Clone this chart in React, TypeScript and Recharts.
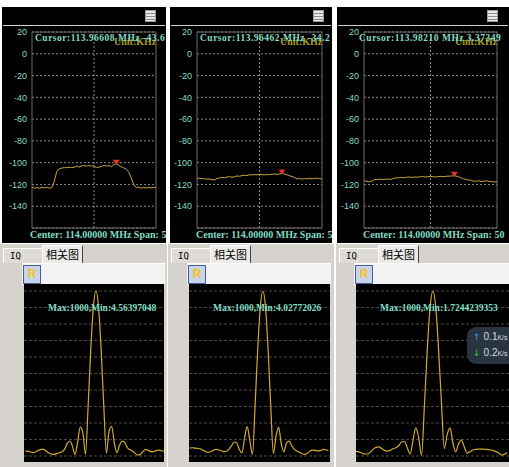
import React from 'react';
import {
  LineChart,
  Line,
  XAxis,
  YAxis,
  CartesianGrid,
  ReferenceLine,
  ReferenceArea,
  ReferenceDot,
} from 'recharts';

// Spectrum traces: level in dB for each of 51 bins across the span
const spectrumA = [
  -122.5, -123.5, -122.8, -123.6, -122.6, -123.2, -122.5, -123.4, -123, -117,
  -108, -105.5, -105, -104.6, -104.5, -104.3, -104.5, -104.2, -103.2, -104,
  -103, -102.8, -103, -102.8, -103, -103, -104.5, -104, -103.6, -102.5,
  -103.2, -102.6, -103.8, -101.8, -101, -102.5, -103.8, -104.8, -106, -108.5,
  -114, -120, -123, -122.4, -123.5, -122.8, -123.4, -122.6, -123.2, -122.7, -123,
];
const spectrumB = [
  -114.5, -114.2, -114.8, -114.6, -115.2, -115, -115.6, -115.8, -114.6, -114,
  -113.6, -113.9, -113.2, -112.8, -113.4, -112.9, -112.2, -112.5, -111.9, -111.6,
  -111.8, -111.1, -111.3, -110.9, -111.2, -110.7, -110.9, -111.3, -110.8, -111,
  -110.6, -110.4, -110.8, -110.3, -109.9, -110.5, -111.2, -112, -112.8, -113.6,
  -114.9, -114.4, -115.2, -114.6, -114.9, -114.3, -114.8, -114.5, -114.2, -114.7, -114.9,
];
const spectrumC = [
  -116.6, -117.2, -117.6, -116.8, -115.6, -115.4, -115.2, -115.6, -115.3, -115,
  -115.4, -114.6, -114, -113.8, -113.5, -113.9, -113.4, -113.2, -113.6, -113.1,
  -113.4, -113, -112.8, -113.2, -112.9, -112.7, -112.9, -113.1, -112.7, -112.6,
  -112.8, -112.5, -112.4, -112.2, -112, -112.6, -113.4, -114.5, -115.3, -115.8,
  -116.2, -116.9, -117.1, -116.6, -117.3, -117, -116.7, -117.2, -117.4, -117.6, -117.8,
];
const markerBin = 34;
const centerBin = 25;
const dbTicks = [20, 0, -20, -40, -60, -80, -100, -120, -140];

const cursorLabels = [
  'Cursor:113.96608 MHz -43.6',
  'Cursor:113.96462 MHz -34.2',
  'Cursor:113.98210 MHz 3.37349',
];
const unitLabel = 'Unit:KHz';
const centerLabel = 'Center: 114.00000 MHz  Span: 50';

// Correlation magnitude per lag, peak normalised to 1000
const corrA = [
  28, 30, 24, 20, 26, 34, 40, 40, 30, 18, 11, 10, 14, 20, 26, 40, 75, 91, 60, 10,
  85, 175, 140, 10, 300, 640, 900, 1000, 900, 640, 300, 18, 150, 178, 80, 20, 65, 90,
  82, 50, 38, 30, 16, 6, 10, 28, 40, 34, 27, 26, 33, 36, 32, 30,
];
const corrB = [
  48, 50, 48, 46, 44, 36, 28, 22, 26, 34, 40, 38, 32, 27, 28, 40, 62, 85, 80, 40,
  18, 110, 178, 95, 10, 300, 640, 900, 1000, 900, 640, 300, 16, 120, 174, 75, 25, 80,
  90, 62, 40, 30, 22, 14, 10, 18, 30, 36, 34, 31, 32, 40, 38, 32,
];
const corrC = [
  28, 25, 18, 12, 12, 22, 40, 52, 55, 45, 34, 30, 34, 44, 50, 62, 85, 88, 50, 12,
  95, 170, 110, 5, 300, 640, 900, 1000, 900, 640, 320, 45, 130, 170, 80, 25, 75, 97,
  55, 18, 26, 36, 40, 42, 42, 41, 40, 38, 34, 27, 20, 6, 10, 20,
];
const corrStarts = [-27, -28, -27];
const corrGrid = [0, 100, 200, 300, 400, 500, 600, 700, 800, 900, 1000];
const corrMins = ['4.56397048', '4.02772026', '1.7244239353'];
const tabLabels = ['IQ', '相关图'];
const speeds = ['0.1', '0.2'];

const TEAL = '#80dcc4';
const TRACE = '#c9a43a';

const columns = [
  { left: 0, width: 167, topLeft: 2, topW: 164, axisW: 30, padR: 10, menu: 145, text: 35, center: 30, black: 24, blackW: 140, lags: [-27.5, 26] },
  { left: 168, width: 166, topLeft: 170, topW: 162, axisW: 27, padR: 10, menu: 313, text: 200, center: 196, black: 189, blackW: 141, lags: [-28.2, 25.6] },
  { left: 336, width: 173, topLeft: 337, topW: 172, axisW: 27, padR: 12, menu: 487, text: 359, center: 363, black: 356, blackW: 153, lags: [-27, 26.7] },
];
const spectra = [spectrumA, spectrumB, spectrumC];
const correlations = [corrA, corrB, corrC];

const serif: React.CSSProperties = {
  fontFamily: '"Liberation Serif", serif',
  fontWeight: 'bold',
  whiteSpace: 'nowrap',
  position: 'absolute',
  lineHeight: 1,
};

function Marker(props: any) {
  const { cx, cy } = props;
  return <path d={`M${cx - 3.5},${cy - 4} L${cx + 3.5},${cy - 4} L${cx},${cy + 1} Z`} fill="#e8322a" />;
}

function MenuIcon({ left }: { left: number }) {
  return (
    <div
      style={{
        position: 'absolute',
        left,
        top: 3,
        width: 11,
        height: 12,
        border: '1px solid #9a9a9a',
        boxSizing: 'border-box',
        background: 'repeating-linear-gradient(#e8e8e8 0 2px, #8c8c8c 2px 3px)',
      }}
    />
  );
}

function SpectrumPanel({ col, values, cursor }: { col: any; values: number[]; cursor: string }) {
  const data = values.map((db, bin) => ({ bin, db }));
  const plotRight = col.topW - col.padR;
  return (
    <div style={{ position: 'absolute', left: col.topLeft, top: 7, width: col.topW, height: 236, background: '#000', overflow: 'hidden' }}>
      <div style={{ position: 'absolute', left: 1, right: 1, top: 18, height: 1, background: '#d0d0d0' }} />
      <MenuIcon left={col.menu - col.topLeft} />
      <div style={{ position: 'absolute', left: 0, top: 19 }}>
        <LineChart width={col.topW} height={210} data={data} margin={{ top: 6, right: col.padR, bottom: 8, left: 0 }}>
          <CartesianGrid vertical={false} stroke="#8a8a8a" strokeDasharray="2 2" />
          <XAxis dataKey="bin" type="number" domain={[0, 50]} hide />
          <YAxis
            type="number"
            domain={[-160, 20]}
            ticks={dbTicks}
            width={col.axisW}
            axisLine={false}
            tickLine={false}
            tickSize={3}
            tickMargin={2}
            interval={0}
            tick={{ fill: TEAL, fontSize: 9, fontFamily: '"Liberation Sans", sans-serif' }}
          />
          <ReferenceLine x={centerBin} stroke="#8a8a8a" strokeDasharray="2 2" />
          <ReferenceArea x1={0} x2={50} y1={-160} y2={20} fill="none" stroke="#6a6a6a" />
          <Line type="linear" dataKey="db" stroke={TRACE} strokeWidth={1} dot={false} isAnimationActive={false} />
          <ReferenceDot x={markerBin} y={values[markerBin]} shape={<Marker />} />
        </LineChart>
      </div>
      <div style={{ ...serif, left: plotRight - 42, top: 30, fontSize: 10, color: '#a89c1c' }}>{unitLabel}</div>
      <div style={{ ...serif, left: col.text - col.topLeft, top: 27, fontSize: 9.5, letterSpacing: 0.5, color: TEAL }}>{cursor}</div>
      <div style={{ ...serif, left: col.center - col.topLeft, top: 223, fontSize: 10, color: TEAL }}>{centerLabel}</div>
    </div>
  );
}

function CorrelationPanel({ col, values, start, min }: { col: any; values: number[]; start: number; min: string }) {
  const data = values.map((r, i) => ({ lag: start + i, r }));
  const x0 = col.left + 3;
  return (
    <>
      <div style={{ position: 'absolute', left: col.left, top: 243, width: col.width, height: 224, background: '#d6d3ce', borderTop: '1px solid #fff', boxSizing: 'border-box' }} />
      {/* tab strip */}
      <div style={{ position: 'absolute', left: x0, top: 248, width: 39, height: 15, background: '#dedbd6', borderTop: '1px solid #fff', borderLeft: '1px solid #fff', boxSizing: 'border-box', fontFamily: '"DejaVu Sans Mono", monospace', fontSize: 9, lineHeight: '14px', paddingLeft: 6, color: '#000' }}>
        {tabLabels[0]}
      </div>
      <div style={{ position: 'absolute', left: x0 + 39, top: 245, width: 41, height: 18, background: '#ecebe8', borderTop: '1px solid #fff', borderLeft: '1px solid #fff', borderRight: '1px solid #404040', boxSizing: 'border-box', fontFamily: '"Noto Sans CJK SC", sans-serif', fontSize: 11, lineHeight: '16px', textAlign: 'center', color: '#000' }}>
        {tabLabels[1]}
      </div>
      {/* toolbar with R button */}
      <div style={{ position: 'absolute', left: col.black - 2, top: 263, width: col.blackW + 3, height: 21, background: '#f3f3f3', borderTop: '1px solid #fff' }} />
      <div style={{ position: 'absolute', left: col.black - 1, top: 265, width: 18, height: 19, background: '#c6d4ec', border: '1px solid #4a5c98', boxSizing: 'border-box', color: '#f2c41a', fontFamily: '"Liberation Sans", sans-serif', fontWeight: 'bold', fontSize: 12, lineHeight: '17px', textAlign: 'center' }}>
        R
      </div>
      <div style={{ position: 'absolute', left: col.black, top: 284, width: col.blackW, height: 178, background: '#000', overflow: 'hidden' }}>
        <LineChart width={col.blackW} height={178} data={data} margin={{ top: 7, right: 0, bottom: 6, left: 0 }}>
          <XAxis dataKey="lag" type="number" domain={col.lags} allowDataOverflow hide />
          <YAxis type="number" domain={[0, 1000]} allowDataOverflow hide />
          {corrGrid.map((g) => (
            <ReferenceLine key={g} y={g} stroke="#4a4a4a" strokeDasharray="3 2" />
          ))}
          <Line type="monotone" dataKey="r" stroke="#d2aa32" strokeWidth={1.2} dot={false} isAnimationActive={false} />
        </LineChart>
        <div style={{ ...serif, left: 24, top: 20, fontSize: 9.5, color: TEAL }}>{`Max:1000,Min:${min}`}</div>
      </div>
    </>
  );
}

function SpeedBadge() {
  const arrows = [
    { glyph: '↑', color: '#3aa0e6' },
    { glyph: '↓', color: '#3ec43e' },
  ];
  return (
    <div style={{ position: 'absolute', left: 467, top: 327, width: 52, height: 37, borderRadius: 9, background: 'rgba(44,56,70,0.92)', fontFamily: '"Liberation Sans", sans-serif', color: '#d8dde2' }}>
      {speeds.map((s, i) => (
        <div key={s} style={{ position: 'absolute', left: 6, top: 3 + i * 16, whiteSpace: 'nowrap', fontSize: 10, lineHeight: '14px' }}>
          <span style={{ color: arrows[i].color, fontSize: 9, fontFamily: '"DejaVu Sans", sans-serif' }}>{arrows[i].glyph}</span>
          <span style={{ marginLeft: 3 }}>{s}</span>
          <span style={{ fontSize: 7 }}>K/s</span>
        </div>
      ))}
    </div>
  );
}

export default function App() {
  return (
    <div style={{ position: 'absolute', left: 0, top: 0, width: 509, height: 467, overflow: 'hidden', background: '#ffffff' }}>
      {columns.map((col, i) => (
        <React.Fragment key={i}>
          <SpectrumPanel col={col} values={spectra[i]} cursor={cursorLabels[i]} />
          <CorrelationPanel col={col} values={correlations[i]} start={corrStarts[i]} min={corrMins[i]} />
        </React.Fragment>
      ))}
      <SpeedBadge />
    </div>
  );
}
